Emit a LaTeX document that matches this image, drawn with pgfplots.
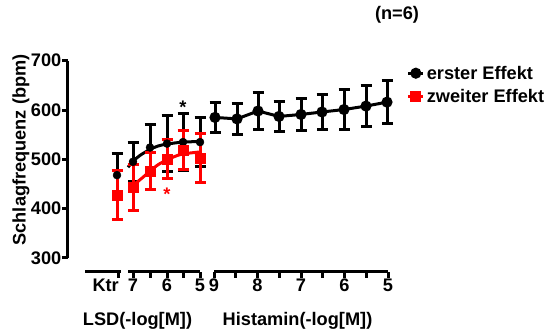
\documentclass[border=0pt]{standalone}
\usepackage{fontspec}
\setmainfont{Liberation Sans}
\usepackage{pgfplots}
\pgfplotsset{compat=1.18}
\newcommand{\lf}{\bfseries\fontsize{18.2}{21}\selectfont}
\pgfplotsset{
  seg/.style={scale only axis, height=10pt, ymin=0, ymax=1,
    axis x line*=bottom, axis y line=none,
    axis line style={-, line width=3pt},
    tick align=outside, major tick length=6pt,
    every tick/.style={line width=3pt, black},
    xticklabel style={font=\lf, inner sep=1pt},
    anchor=south west},
  ebar/.style={error bars/.cd, y dir=both, y explicit,
    error bar style={line width=3pt},
    error mark options={rotate=90, mark size=5.5pt, line width=3pt}}
}
\begin{document}
\begin{tikzpicture}
\path[use as bounding box] (0,0) rectangle (549pt,331pt);
% x-axis segments
\begin{axis}[seg, xmin=85, xmax=121, width=36pt, at={(85pt,59pt)},
  xtick={118}, xticklabels={Ktr}, xticklabel style={anchor=north east, xshift=2pt}]
\end{axis}
\begin{axis}[seg, xmin=128, xmax=200, width=72pt, at={(128pt,59pt)},
  xtick={133,150,167,183,200}, xticklabels={7,,6,,5}]
\end{axis}
\begin{axis}[seg, xmin=214, xmax=388, width=174pt, at={(214pt,59pt)},
  xtick={214,235.75,257.5,279.25,301,322.75,344.5,366.25,388},
  xticklabels={9,,8,,7,,6,,5}]
\end{axis}
% main axis
\begin{axis}[scale only axis, width=332pt, height=197.3pt,
  xmin=68, xmax=400, ymin=300, ymax=700,
  at={(68pt,73pt)}, anchor=south west,
  axis x line=none, axis y line*=left,
  axis line style={-, line width=3pt},
  ytick={300,400,...,700}, tick align=outside, major tick length=6pt,
  every tick/.style={line width=3pt, black},
  yticklabel style={font=\lf, inner sep=0.5pt},
  /pgf/number format/assume math mode=true,
  ylabel={Schlagfrequenz (bpm)},
  ylabel style={font=\lf, at={(axis description cs:-0.1416,0.548)}, anchor=center},
  clip=false,
  legend style={at={(1.02,0.985)}, anchor=north west, draw=none, fill=none,
    font=\lf, row sep=5pt, inner sep=0pt,
    nodes={inner sep=2pt}},
  legend image code/.code={\draw[#1] (0pt,0pt) -- (15pt,0pt); \draw[#1, only marks] plot coordinates {(7.5pt,0pt)};},
  legend cell align=left]
\addlegendimage{black, line width=3pt, mark=*, mark size=4pt}
\addlegendentry{erster Effekt}
\addlegendimage{red, line width=3pt, mark=square*, mark size=4pt}
\addlegendentry{zweiter Effekt}
% black fit curve
\addplot[black, line width=3pt, smooth, line join=round, forget plot] coordinates {
(128,484) (133,496) (140,508) (150,520) (158,527) (167,531) (183,535) (200,536)};
% black Ktr + LSD points
\addplot[black, only marks, mark=*, mark size=4pt, forget plot, ebar] coordinates {
(117,468) +- (0,43)
(133,495) +- (0,40)
(150,524) +- (0,46)
(167,532) +- (0,56)
(183,535) +- (0,57)
(200,535) +- (0,49)};
% black histamine
\addplot[black, line width=3pt, mark=*, mark size=4pt, forget plot, ebar] coordinates {
(215,585) +- (0,30)
(237,582) +- (0,31)
(258,598) +- (0,38)
(279,587) +- (0,30)
(301,591) +- (0,33)
(322,596) +- (0,36)
(344,601) +- (0,40)
(366,608) +- (0,42)
(387,616) +- (0,43)};
% red fit curve
\addplot[red, line width=3pt, smooth, line join=round, forget plot] coordinates {
(129,440) (133,447) (142,462) (150,476) (158,489) (167,499) (175,506) (183,511) (200,515)};
% red points
\addplot[red, only marks, mark=square*, mark size=5pt, forget plot, ebar] coordinates {
(117,428) +- (0,50)
(133,443) +- (0,47)
(150,476) +- (0,37)
(167,501) +- (0,40)
(183,519) +- (0,39)
(200,503) +- (0,50)};
\node[font=\lf, text=black] at (axis cs:183,606) {*};
\node[font=\lf, text=red] at (axis cs:167,430) {*};
\node[font=\lf] at (axis description cs:0.991,1.232) {(n=6)};
\node[font=\lf] at (axis cs:137.5,172) {LSD(-log[M])};
\node[font=\lf] at (axis cs:297.5,172) {Histamin(-log[M])};
\end{axis}
\end{tikzpicture}
\end{document}
